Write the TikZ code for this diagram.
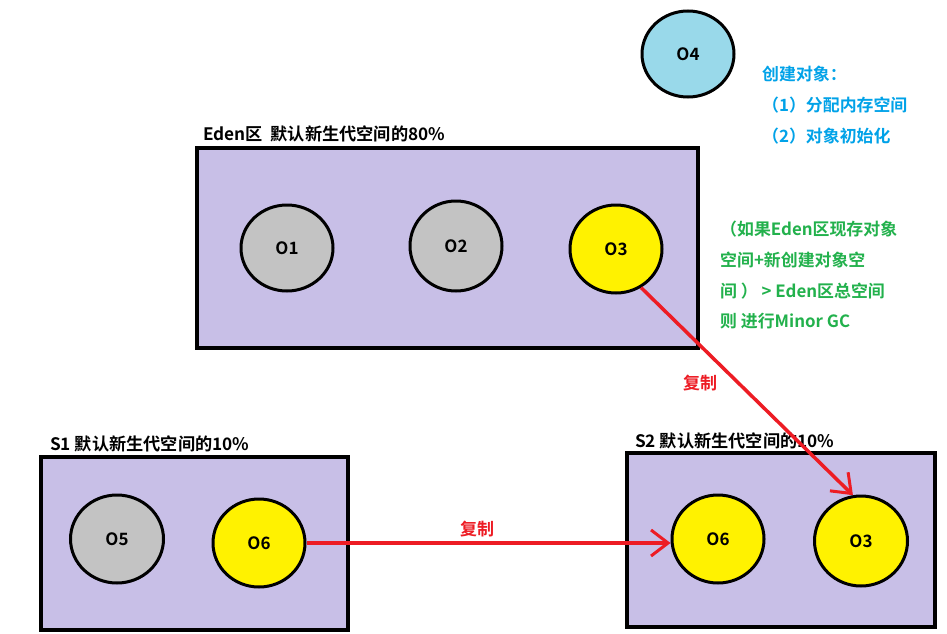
\documentclass[tikz,border=0pt]{standalone}
\usepackage{fontspec}
\setmainfont{Noto Sans CJK SC}[BoldFont={Noto Sans CJK SC Bold}]
\usetikzlibrary{shapes.geometric,arrows.meta}
\definecolor{lav}{HTML}{C8BFE7}
\definecolor{objgrey}{HTML}{C3C3C3}
\definecolor{objyellow}{HTML}{FFF200}
\definecolor{objblue}{HTML}{99D9EA}
\definecolor{txtblue}{HTML}{00A2E8}
\definecolor{txtgreen}{HTML}{22B14C}
\definecolor{arrred}{HTML}{ED1C24}
\tikzset{
  area/.style={draw=black, line width=3.5pt, fill=lav},
  obj/.style={ellipse, draw=black, line width=3pt, inner sep=0pt,
    font=\fontsize{17}{19}\selectfont\bfseries},
  grey/.style={fill=objgrey},
  yel/.style={fill=objyellow},
  areatitle/.style={anchor=west, inner sep=0pt, font=\fontsize{17.2}{19}\selectfont\bfseries},
  note/.style={anchor=west, inner sep=0pt, font=\fontsize{16.9}{19}\selectfont\bfseries},
  copyarrow/.style={draw=arrred, line width=3.5pt,
    -{Straight Barb[length=17pt,width=26pt,line width=3pt]}},
  copylabel/.style={inner sep=0pt, text=arrred, font=\fontsize{17}{19}\selectfont\bfseries}
}
\begin{document}
\begin{tikzpicture}[x=1pt,y=-1pt]
\useasboundingbox[fill=white] (0,0) rectangle (947,634);

% O4 and creation note
\node[obj, fill=objblue, minimum width=92pt, minimum height=86pt] (O4) at (688,54) {O4};
\node[note, text=txtblue] (c1) at (762,74) {创建对象：};
\node[note, text=txtblue] (c2) at (762,105) {（1）分配内存空间};
\node[note, text=txtblue] (c3) at (762,136) {（2）对象初始化};

% Eden
\path[area] (197,148) rectangle (698,348);
\node[areatitle] (edent) at (203,134) {Eden区\ \ 默认新生代空间的80\%};
\node[obj, grey, minimum width=92pt, minimum height=86pt] (O1) at (287,248) {O1};
\node[obj, grey, minimum width=92pt, minimum height=90pt] (O2) at (456,246) {O2};
\node[obj, yel, minimum width=92pt, minimum height=88pt] (O3e) at (616,249) {O3};

% condition note
\node[note, text=txtgreen] (g1) at (720,229) {（如果Eden区现存对象};
\node[note, text=txtgreen] (g2) at (720,260) {空间+新创建对象空};
\node[note, text=txtgreen] (g3) at (720,291) {间 ） >  Eden区总空间};
\node[note, text=txtgreen] (g4) at (720,321) {则 进行Minor GC};

% S1
\path[area] (41,457) rectangle (348,630);
\node[areatitle] (s1t) at (50,444) {S1 默认新生代空间的10\%};
\node[obj, grey, minimum width=93pt, minimum height=88pt] (O5) at (117,539) {O5};
\node[obj, yel, minimum width=92pt, minimum height=88pt] (O6a) at (259,543) {O6};

% S2
\path[area] (627,453) rectangle (935,627);
\node[areatitle] (s2t) at (635,441) {S2 默认新生代空间的10\%};
\node[obj, yel, minimum width=92pt, minimum height=88pt] (O6b) at (718,539) {O6};
\node[obj, yel, minimum width=93pt, minimum height=90pt] (O3s) at (861,541) {O3};

% copy arrows
\draw[copyarrow] (O3e.-57) -- (O3s.100);
\node[copylabel] (cp1) at (700,383) {复制};
\draw[copyarrow] (O6a.east) -- (O6a.east -| O6b.west);
\node[copylabel] (cp2) at (477,529) {复制};
\end{tikzpicture}
\end{document}
